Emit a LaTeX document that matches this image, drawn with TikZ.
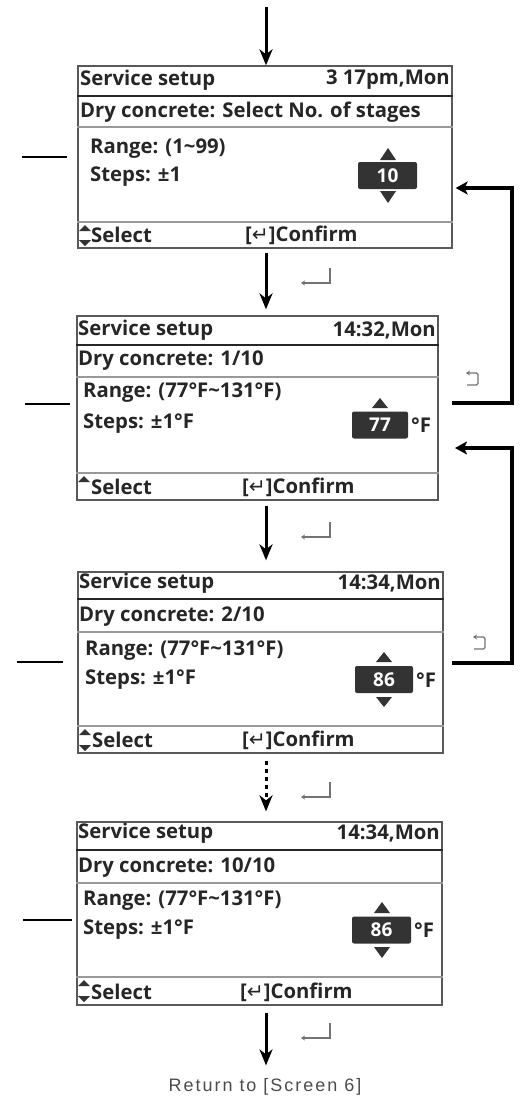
\documentclass[tikz,border=0pt]{standalone}
\usepackage{fontspec}
\setmainfont{Open Sans}
\newfontfamily\symfont{DejaVu Sans}
\newfontfamily\notefont{Liberation Sans}
\usetikzlibrary{arrows.meta}

\tikzset{
  screen/.style={draw=black!65, line width=1.3pt, inner sep=0pt},
  hdiv/.style={draw=black!85, line width=1.8pt},
  div/.style={draw=black!40, line width=1.1pt},
  txt/.style={inner sep=0pt, text=black!85, font=\bfseries\fontsize{20.3}{20.3}\selectfont},
  valbox/.style={fill=black!80, rounded corners=2pt, inner sep=0pt, minimum height=27pt,
    text=white, font=\bfseries\fontsize{19}{19}\selectfont},
  tri/.style={fill=black!80},
  flow/.style={line width=3pt, -{Stealth[length=16pt,width=13pt,inset=5pt]}},
  backflow/.style={line width=3.4pt, -{Stealth[length=12pt,width=13pt,inset=3pt]}},
  entsym/.style={draw=black!55, line width=1.2pt, -{Stealth[length=4pt,width=5pt]}},
  retsym/.style={draw=black!55, line width=1.2pt, rounded corners=1.5pt, {Stealth[length=4pt,width=5pt]}-}
}

\begin{document}
\begin{tikzpicture}[x=1pt,y=-1pt]
\useasboundingbox (0,0) rectangle (522,1101);

% Pantalla 1: numero de etapas
\node[screen, minimum width=374pt, minimum height=182pt] (s1) at (265,157) {};
\draw[hdiv] (s1.west |- 0,96) -- (s1.east |- 0,96);
\draw[div] (s1.west |- 0,127) -- (s1.east |- 0,127);
\draw[div] (s1.west |- 0,222) -- (s1.east |- 0,222);
\node[txt, anchor=west] (s1head) at (80,80) {Service setup};
\node[txt, anchor=east] (s1time) at (450,80) {3 17pm,Mon};
\node[txt, anchor=west] (s1title) at (80,112) {Dry concrete: Select No. of stages};
\node[txt, anchor=west] (s1range) at (90,149) {Range: (1\textasciitilde 99)};
\node[txt, anchor=west] (s1steps) at (90,177) {Steps: ±1};
\node[valbox, minimum width=59pt] (s1val) at (387.5,175.5) {10};
\fill[tri] (388,148) -- (396,160) -- (380,160) -- cycle;
\fill[tri] (388,203) -- (396,191) -- (380,191) -- cycle;
\fill[tri] (85,225) -- (91,231) -- (79,231) -- cycle;
\fill[tri] (85,246) -- (91,240) -- (79,240) -- cycle;
\node[txt, anchor=west] (s1sel) at (91,235) {Select};
\node[txt, anchor=west] (s1ok) at (245,235) {[{\symfont\mdseries ↵}]Confirm};

% Pantalla 2: etapa 1
\node[screen, minimum width=361pt, minimum height=184pt] (s2) at (257.5,408) {};
\draw[hdiv] (s2.west |- 0,345) -- (s2.east |- 0,345);
\draw[div] (s2.west |- 0,377) -- (s2.east |- 0,377);
\draw[div] (s2.west |- 0,473) -- (s2.east |- 0,473);
\node[txt, anchor=west] (s2head) at (78,330) {Service setup};
\node[txt, anchor=east] (s2time) at (436,330) {14:32,Mon};
\node[txt, anchor=west] (s2title) at (78,361) {Dry concrete: 1/10};
\node[txt, anchor=west] (s2range) at (83,393) {Range: (77°F\textasciitilde 131°F)};
\node[txt, anchor=west] (s2steps) at (83,424) {Steps: ±1°F};
\node[valbox, minimum width=56pt] (s2val) at (380,425) {77};
\node[txt, anchor=west] (s2unit) at (411,425) {°F};
\fill[tri] (380,398) -- (388,408) -- (372,408) -- cycle;
\fill[tri] (84,476) -- (90,482) -- (78,482) -- cycle;
\node[txt, anchor=west] (s2sel) at (91,487) {Select};
\node[txt, anchor=west] (s2ok) at (242,487) {[{\symfont\mdseries ↵}]Confirm};

% Pantalla 3: etapa 2
\node[screen, minimum width=365pt, minimum height=181pt] (s3) at (260.5,662.5) {};
\draw[hdiv] (s3.west |- 0,599) -- (s3.east |- 0,599);
\draw[div] (s3.west |- 0,632) -- (s3.east |- 0,632);
\draw[div] (s3.west |- 0,726) -- (s3.east |- 0,726);
\node[txt, anchor=west] (s3head) at (79,583) {Service setup};
\node[txt, anchor=east] (s3time) at (441,583) {14:34,Mon};
\node[txt, anchor=west] (s3title) at (79,617) {Dry concrete: 2/10};
\node[txt, anchor=west] (s3range) at (85,651) {Range: (77°F\textasciitilde 131°F)};
\node[txt, anchor=west] (s3steps) at (85,680) {Steps: ±1°F};
\node[valbox, minimum width=58pt] (s3val) at (384,679.5) {86};
\node[txt, anchor=west] (s3unit) at (416,680) {°F};
\fill[tri] (384,652) -- (392,662) -- (376,662) -- cycle;
\fill[tri] (384,707) -- (392,697) -- (376,697) -- cycle;
\fill[tri] (85,729) -- (91,735) -- (79,735) -- cycle;
\fill[tri] (85,751) -- (91,745) -- (79,745) -- cycle;
\node[txt, anchor=west] (s3sel) at (92,740) {Select};
\node[txt, anchor=west] (s3ok) at (242,740) {[{\symfont\mdseries ↵}]Confirm};

% Pantalla 4: etapa 10
\node[screen, minimum width=365pt, minimum height=183pt] (s4) at (259.5,913.5) {};
\draw[hdiv] (s4.west |- 0,850) -- (s4.east |- 0,850);
\draw[div] (s4.west |- 0,883) -- (s4.east |- 0,883);
\draw[div] (s4.west |- 0,977) -- (s4.east |- 0,977);
\node[txt, anchor=west] (s4head) at (78,833) {Service setup};
\node[txt, anchor=east] (s4time) at (440,833) {14:34,Mon};
\node[txt, anchor=west] (s4title) at (78,868) {Dry concrete: 10/10};
\node[txt, anchor=west] (s4range) at (83,901) {Range: (77°F\textasciitilde 131°F)};
\node[txt, anchor=west] (s4steps) at (83,930) {Steps: ±1°F};
\node[valbox, minimum width=59pt] (s4val) at (381.5,930) {86};
\node[txt, anchor=west] (s4unit) at (414,930) {°F};
\fill[tri] (382,902) -- (390,913) -- (374,913) -- cycle;
\fill[tri] (382,958) -- (390,947) -- (374,947) -- cycle;
\fill[tri] (84,980) -- (90,986) -- (78,986) -- cycle;
\fill[tri] (84,1002) -- (90,996) -- (78,996) -- cycle;
\node[txt, anchor=west] (s4sel) at (91,992) {Select};
\node[txt, anchor=west] (s4ok) at (240,992) {[{\symfont\mdseries ↵}]Confirm};

% Salida
\node[inner sep=0pt, text=black!70, font=\notefont\addfontfeatures{LetterSpace=11}\fontsize{18}{18}\selectfont] (ret) at (265,1087) {Return to [Screen 6]};

% Flechas principales
\coordinate (top) at (266,7);
\draw[flow] (top) -- (s1.north -| top);
\draw[flow, shorten <=4pt, shorten >=6pt] (s1.south -| top) -- (s2.north -| top);
\draw[flow, shorten <=5pt, shorten >=11pt] (s2.south -| top) -- (s3.north -| top);
\draw[flow, dash pattern=on 4pt off 4pt, shorten <=7pt, shorten >=10pt] (s3.south -| top) -- (s4.north -| top);
\draw[flow, shorten <=7pt, shorten >=13pt] (s4.south -| top) -- (ret.north -| top);

% Simbolos de tecla enter
\foreach \y in {283,537,797,1038}
  \draw[entsym] (330,\y-15) -- (330,\y) -- (301,\y);

% Lineas a la izquierda
\coordinate (l1) at (22,157); \coordinate (l2) at (25,404);
\coordinate (l3) at (17,662); \coordinate (l4) at (23,920);
\draw[line width=1.1pt] (l1) -- ++(45,0);
\draw[line width=1.1pt] (l2) -- ++(45,0);
\draw[line width=1.1pt] (l3) -- ++(46,0);
\draw[line width=1.1pt] (l4) -- ++(49,0);

% Vuelta atras
\coordinate (b1) at (452,403); \coordinate (rail1) at (512,188);
\coordinate (b2) at (452,663); \coordinate (rail2) at (512,448);
\draw[backflow] (b1) -| (rail1) -- ([xshift=3pt]s1.east |- rail1);
\draw[backflow] (b2) -| (rail2) -- (455,448);
\foreach \p in {(473,379),(480,643)}
  \draw[retsym, shift={\p}] (-7,-6) -- (5,-6) -- (5,6) -- (-6,6);

\end{tikzpicture}
\end{document}
